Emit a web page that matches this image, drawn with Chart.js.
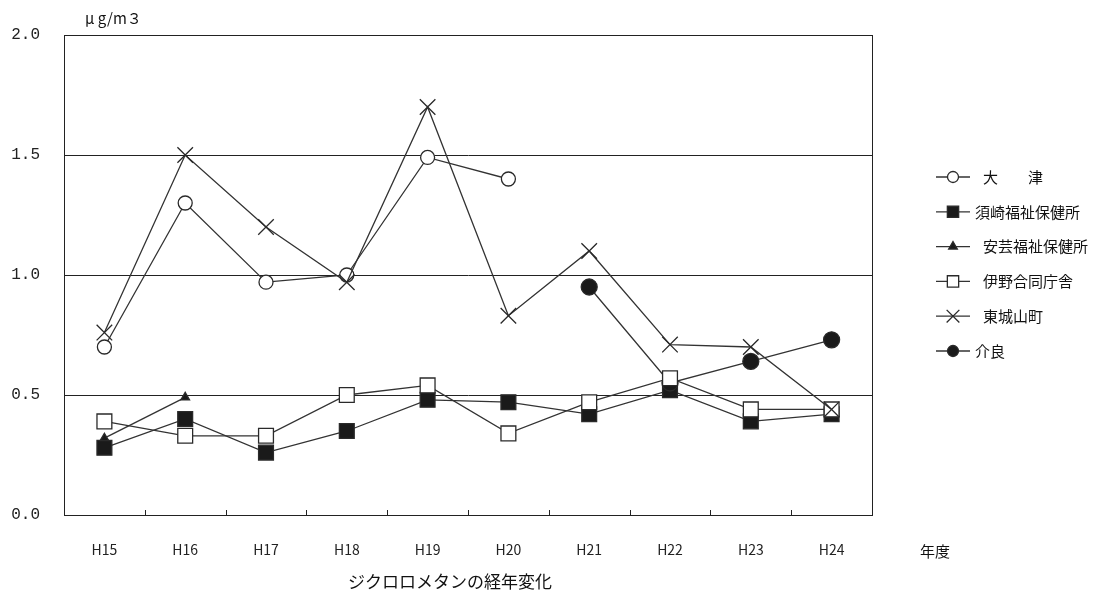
<!DOCTYPE html>
<html lang="ja">
<head>
<meta charset="utf-8">
<script src="https://cdn.jsdelivr.net/npm/chart.js@4.4.1/dist/chart.umd.min.js"></script>
<style>
  html, body { margin: 0; padding: 0; background: #fff; }
  #wrap { width: 1112px; height: 601px; position: relative; }
</style>
</head>
<body>
<div id="wrap"><canvas id="chart"></canvas></div>
<script>
/* ジクロロメタンの経年変化 */

const years = ["H15", "H16", "H17", "H18", "H19", "H20", "H21", "H22", "H23", "H24"];
const yTicks = [0, 0.5, 1.0, 1.5, 2.0];

const ootsu    = [0.70, 1.30, 0.97, 1.00, 1.49, 1.40, null, null, null, null];
const susaki   = [0.28, 0.40, 0.26, 0.35, 0.48, 0.47, 0.42, 0.52, 0.39, 0.42];
const aki      = [0.32, 0.49, null, null, null, null, null, null, null, null];
const ino      = [0.39, 0.33, 0.33, 0.50, 0.54, 0.34, 0.47, 0.57, 0.44, 0.44];
const toujou   = [0.76, 1.50, 1.20, 0.97, 1.70, 0.83, 1.10, 0.71, 0.70, 0.44];
const kera     = [null, null, null, null, null, null, 0.95, 0.55, 0.64, 0.73];

const seriesNames = ["大　　津", "須崎福祉保健所", "安芸福祉保健所", "伊野合同庁舎", "東城山町", "介良"];

const FONT = "'Noto Sans CJK JP', 'Noto Sans', sans-serif";
const NUMFONT = "'Liberation Mono', 'DejaVu Sans Mono', monospace";
const LINE = "#333";

function series(label, data, style, radius, fill) {
  return {
    label: label,
    data: data,
    borderColor: LINE,
    borderWidth: 1.3,
    pointStyle: style,
    pointRadius: radius,
    pointHoverRadius: radius,
    pointBackgroundColor: fill,
    pointBorderColor: "#2a2a2a",
    pointBorderWidth: 1.3,
    tension: 0,
    spanGaps: false,
    fill: false
  };
}

const datasets = [
  series(seriesNames[0], ootsu, "circle", 7, "#fff"),
  series(seriesNames[1], susaki, "rect", 10.5, "#1a1a1a"),
  series(seriesNames[2], aki, "triangle", 5, "#1a1a1a"),
  series(seriesNames[3], ino, "rect", 10.5, "#fff"),
  series(seriesNames[4], toujou, "crossRot", 11, "#fff"),
  series(seriesNames[5], kera, "circle", 8, "#1a1a1a")
];
// draw order: open squares over filled, crosses on top
datasets[1].order = 5;
datasets[2].order = 4;
datasets[5].order = 3;
datasets[3].order = 2;
datasets[0].order = 1;
datasets[4].order = 0;

// frame, inward ticks, legend and captions
const extras = {
  id: "extras",
  afterDraw(chart) {
    const ctx = chart.ctx;
    const a = chart.chartArea;
    const xs = chart.scales.x;
    ctx.save();

    // box round the plot
    ctx.strokeStyle = "#222";
    ctx.lineWidth = 1;
    ctx.strokeRect(a.left + 0.5, a.top + 0.5, a.right - a.left, a.bottom - a.top);

    // small ticks between categories
    for (let i = 1; i < years.length; i++) {
      const x = Math.round((xs.getPixelForValue(i - 1) + xs.getPixelForValue(i)) / 2) + 0.5;
      ctx.beginPath();
      ctx.moveTo(x, a.bottom);
      ctx.lineTo(x, a.bottom - 5);
      ctx.stroke();
    }

    // legend
    const lx = 936, ly = 177, step = 34.8;
    const indent = [983, 975, 983, 983, 983, 975];
    ctx.font = "15px " + FONT;
    ctx.textBaseline = "middle";
    ctx.textAlign = "left";
    chart.data.datasets.forEach((ds, i) => {
      const y = ly + i * step;
      ctx.strokeStyle = LINE;
      ctx.lineWidth = 1.3;
      ctx.beginPath();
      ctx.moveTo(lx, y);
      ctx.lineTo(lx + 34, y);
      ctx.stroke();
      ctx.fillStyle = ds.pointBackgroundColor;
      ctx.strokeStyle = ds.pointBorderColor;
      ctx.lineWidth = 1.3;
      let r = ds.pointRadius;
      if (ds.pointStyle === "rect") r = 8;
      if (ds.pointStyle === "circle") r = 5.5;
      if (ds.pointStyle === "crossRot") r = 9;
      Chart.helpers.drawPoint(ctx, { pointStyle: ds.pointStyle, radius: r, rotation: 0, borderWidth: 1.3 }, lx + 17, y);
      ctx.fillStyle = "#111";
      ctx.fillText(ds.label, indent[i], y);
    });

    // unit, axis caption, title
    ctx.fillStyle = "#111";
    ctx.font = "15px " + FONT;
    ctx.textAlign = "left";
    ctx.fillText("μ g/m３", 85, 18);
    ctx.fillText("年度", 920, 551);
    ctx.font = "17px " + FONT;
    ctx.textAlign = "center";
    ctx.fillText("ジクロロメタンの経年変化", 450, 582);

    ctx.restore();
  }
};

new Chart(document.getElementById("chart"), {
  type: "line",
  data: { labels: years, datasets: datasets },
  options: {
    responsive: true,
    maintainAspectRatio: false,
    animation: false,
    events: [],
    layout: { padding: { left: 0, top: 35, right: 240, bottom: 0 } },
    plugins: {
      legend: { display: false },
      tooltip: { enabled: false }
    },
    scales: {
      x: {
        offset: true,
        grid: { display: false },
        border: { display: true, color: "#222", width: 1 },
        ticks: { color: "#222", padding: 18, font: { family: FONT, size: 14 } },
        afterFit(s) { s.height = 86; }
      },
      y: {
        min: 0,
        max: 2,
        afterBuildTicks(s) { s.ticks = yTicks.map(v => ({ value: v })); },
        grid: { color: "#222", lineWidth: 1, drawTicks: false },
        border: { display: true, color: "#222", width: 1 },
        ticks: {
          color: "#222",
          padding: 24,
          font: { family: NUMFONT, size: 16 },
          callback: v => v.toFixed(1)
        },
        afterFit(s) { s.width = 64; }
      }
    }
  },
  plugins: [extras]
});
</script>
</body>
</html>
